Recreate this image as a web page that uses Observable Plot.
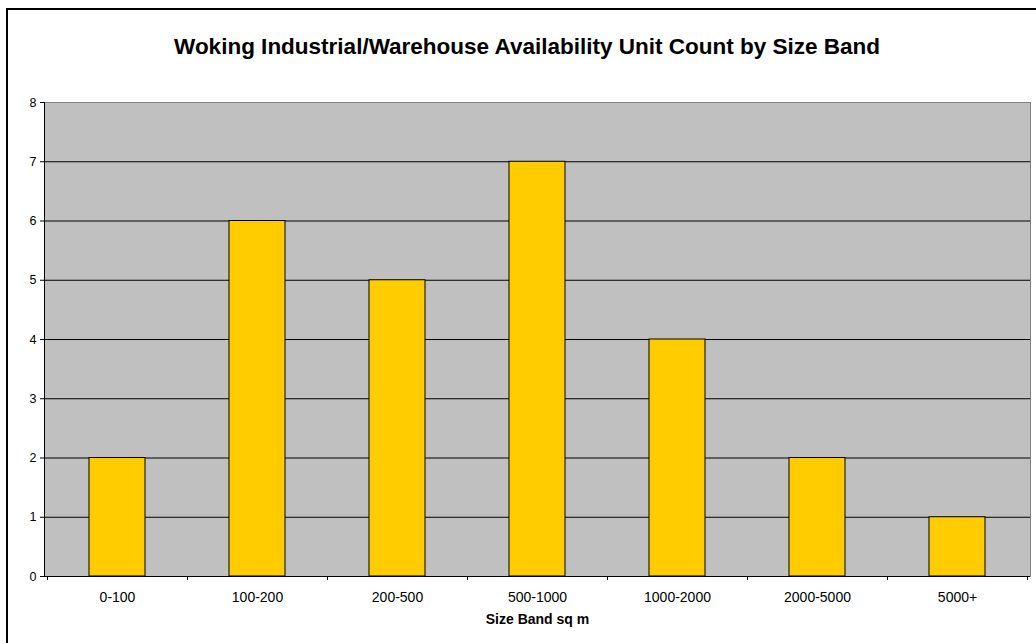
<!DOCTYPE html>
<html>
<head>
<meta charset="utf-8">
<script src="https://cdn.jsdelivr.net/npm/d3@7"></script>
<script src="https://cdn.jsdelivr.net/npm/@observablehq/plot@0.6"></script>
<style>
  html, body { margin: 0; padding: 0; background: #fff; }
  #wrap { position: relative; width: 1036px; height: 643px; overflow: hidden; font-family: "Liberation Sans", Arial, sans-serif; }
  #border { position: absolute; left: 6px; top: 8px; width: 1200px; height: 800px; border: 2px solid #000; box-sizing: border-box; }
  #title { position: absolute; left: 18px; top: 0; width: 1018px; height: 70px; line-height: 94px; text-align: center; font-weight: bold; font-size: 22.5px; color: #000; white-space: nowrap; }
  #chart { position: absolute; left: 0; top: 70px; }
</style>
</head>
<body>
<div id="wrap">
  <div id="border"></div>
  <div id="title">Woking Industrial/Warehouse Availability Unit Count by Size Band</div>
  <div id="chart"></div>
</div>
<script>
const categories = ["0-100", "100-200", "200-500", "500-1000", "1000-2000", "2000-5000", "5000+"];
const counts = [2, 6, 5, 7, 4, 2, 1];
const yTicks = [0, 1, 2, 3, 4, 5, 6, 7, 8];
const gridValues = [1, 2, 3, 4, 5, 6, 7];
const xTitle = "Size Band sq m";

const data = categories.map((c, i) => ({band: c, count: counts[i]}));
const padInner = 0.6, padOuter = 0.3;

function edgeMarks(index, scales, values, dims) {
  const x = scales.x;
  const step = x(categories[1]) - x(categories[0]);
  const start = x(categories[0]) - step * padInner / 2;
  const yb = dims.height - dims.marginBottom;
  const g = d3.create("svg:g").attr("stroke", "#000").attr("stroke-width", 1).attr("shape-rendering", "crispEdges");
  for (let i = 0; i <= categories.length; i++) {
    const xx = Math.round(start + i * step) + 0.5;
    g.append("line").attr("x1", xx).attr("x2", xx).attr("y1", yb).attr("y2", yb + 4);
  }
  const xl = dims.marginLeft + 0.5;
  g.append("line").attr("x1", xl).attr("x2", xl).attr("y1", dims.marginTop).attr("y2", yb);
  return g.node();
}

const chart = Plot.plot({
  width: 1036,
  height: 573,
  marginLeft: 44,
  marginRight: 6,
  marginTop: 32,
  marginBottom: 67,
  style: { fontFamily: "'Liberation Sans', Arial, sans-serif", fontSize: "12.5px", color: "#000", background: "transparent" },
  x: { domain: categories, paddingInner: padInner, paddingOuter: padOuter, label: null, tickSize: 0, tickPadding: 16, tickFormat: d => d, fontSize: 14 },
  y: { domain: [0, 8], ticks: yTicks, tickSize: 4, tickPadding: 4, label: null },
  marks: [
    Plot.frame({ fill: "#c0c0c0", stroke: "#808080" }),
    Plot.ruleY(gridValues, { stroke: "#000", strokeWidth: 1 }),
    Plot.barY(data, { x: "band", y: "count", fill: "#ffcc00", stroke: "#000", strokeWidth: 1 }),
    Plot.ruleY([0], { stroke: "#000", strokeWidth: 1 }),
    edgeMarks,
    Plot.axisX({ tickSize: 0, tickPadding: 16, fontSize: 14, tickFormat: d => d, label: null }),
    Plot.text([xTitle], { text: d => d, frameAnchor: "bottom", dy: 47, fontWeight: "bold", fontSize: 14 })
  ]
});
document.getElementById("chart").appendChild(chart);
</script>
</body>
</html>
